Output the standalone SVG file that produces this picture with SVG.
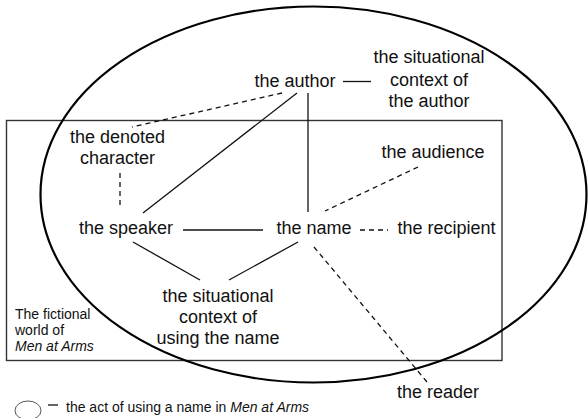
<svg xmlns="http://www.w3.org/2000/svg" width="588" height="418" viewBox="0 0 588 418">
<style>
text{font-family:"Liberation Sans",Arial,sans-serif;fill:#111}
.n{font-size:18px;text-anchor:middle}
.s{font-size:14px}
.l{stroke:#111;stroke-width:1.3;fill:none}
.d{stroke:#111;stroke-width:1.3;fill:none;stroke-dasharray:5 4}
</style>
<rect width="588" height="418" fill="#fff"/>
<g id="fictional-world">
<rect x="6.5" y="120.5" width="495.5" height="240" fill="none" stroke="#333" stroke-width="1.4"/>
<text class="s" x="15" y="319">The fictional</text>
<text class="s" x="15" y="335">world of</text>
<text class="s" x="15" y="351" font-style="italic">Men at Arms</text>
</g>
<g id="act-ellipse">
<ellipse cx="313.5" cy="194.5" rx="273" ry="188" fill="none" stroke="#000" stroke-width="2.2"/>
</g>
<g id="connectors">
<line class="d" x1="282" y1="93" x2="132" y2="127"/>
<line class="l" x1="297" y1="93" x2="143" y2="213"/>
<line class="l" x1="308" y1="93" x2="308" y2="212"/>
<line class="l" x1="343" y1="81.5" x2="371" y2="81.5"/>
<line class="d" x1="120" y1="173" x2="120" y2="207" stroke-dasharray="6 4"/>
<line class="d" x1="418" y1="167" x2="325" y2="211"/>
<line class="l" x1="183" y1="230" x2="263" y2="230"/>
<line class="d" x1="360" y1="230" x2="388" y2="230" stroke-dasharray="6 4.5"/>
<line class="l" x1="133" y1="242" x2="200" y2="280"/>
<line class="l" x1="298" y1="242" x2="229" y2="280"/>
<line class="d" x1="314" y1="247" x2="427" y2="382"/>
</g>
<g id="author"><text class="n" x="295" y="87">the author</text></g>
<g id="context-author">
<text class="n" x="429" y="63">the situational</text>
<text class="n" x="429" y="85.5">context of</text>
<text class="n" x="429" y="107">the author</text>
</g>
<g id="denoted-character">
<text class="n" x="117.5" y="143">the denoted</text>
<text class="n" x="117.5" y="163.5">character</text>
</g>
<g id="audience"><text class="n" x="433" y="158">the audience</text></g>
<g id="speaker"><text class="n" x="126" y="234">the speaker</text></g>
<g id="name"><text class="n" x="314" y="234">the name</text></g>
<g id="recipient"><text class="n" x="446.5" y="234">the recipient</text></g>
<g id="context-name">
<text class="n" x="218" y="302">the situational</text>
<text class="n" x="218" y="323">context of</text>
<text class="n" x="218" y="344">using the name</text>
</g>
<g id="reader"><text class="n" x="438" y="398">the reader</text></g>
<g id="legend">
<ellipse cx="28" cy="410.5" rx="13" ry="9.5" fill="none" stroke="#555" stroke-width="1"/>
<line x1="48" y1="405" x2="58" y2="405" stroke="#111" stroke-width="1.3"/>
<text class="s" x="66" y="412">the act of using a name in <tspan font-style="italic">Men at Arms</tspan></text>
</g>
</svg>
